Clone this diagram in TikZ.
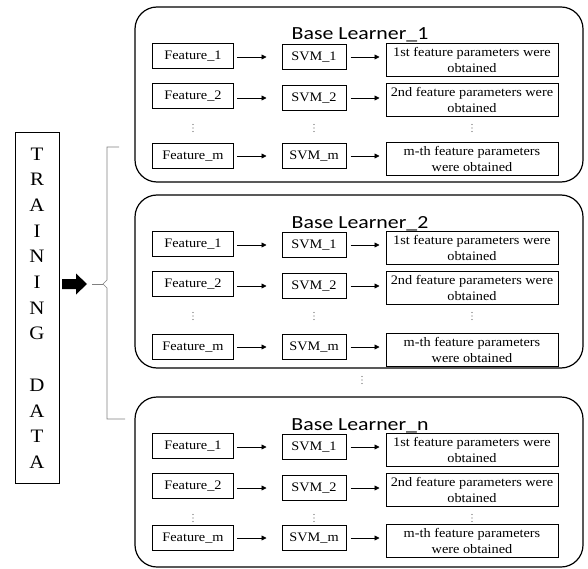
\documentclass[tikz,border=0pt]{standalone}
\usepackage{fontspec}
\setmainfont{Liberation Serif}[FakeStretch=1.1]
\newfontfamily\titlefont{Carlito}[FakeStretch=1.18]
\usetikzlibrary{arrows.meta}

\begin{document}
\begin{tikzpicture}[x=1pt, y=-1pt,
    every node/.style={font=\fontsize{13}{15.5}\selectfont},
    box/.style={draw, rectangle, line width=1pt, inner sep=1pt, align=center},
    featbox/.style={box, minimum width=81pt, minimum height=25pt},
    svmbox/.style={box, minimum width=64pt, minimum height=25pt},
    resbox/.style={box, minimum width=172pt, minimum height=33pt},
    learner/.style={draw, rounded corners=22pt, line width=1.2pt},
    flow/.style={-{Triangle[length=5pt,width=5pt]}, line width=0.8pt},
    brace/.style={draw, gray, line width=0.6pt}
]
    \useasboundingbox (0,0) rectangle (588,569);

    % training data and the big arrow
    \node[draw, line width=1pt, minimum width=44pt, minimum height=350pt, align=center,
          font=\fontsize{19}{25.7}\selectfont] (td) at (37,308)
          {T\\R\\A\\I\\N\\I\\N\\G\\[25.7pt]D\\A\\T\\A};
    \fill (62,279) -- (76,279) -- (76,273.5) -- (87,284) -- (76,294.5) -- (76,289) -- (62,289) -- cycle;
    \coordinate (go) at (87,284);

    % bracket to the learners
    \coordinate (bm) at (103,284);
    \coordinate (bt) at (119,147);
    \coordinate (bb) at (125,419);
    \draw[brace] ([xshift=5pt]go) -- (bm);
    \draw[brace] (bt) -- (107,147) -- (107,280) -- (bm) -- (107,288) -- (107,419) -- (bb);

    % base learners
    \foreach \i/\o/\m/\b in {1/0/156/182, 2/188/159/180, n/390/148/177} {
        \draw[learner] (135,\o+7) rectangle (583,\o+\b);
        \node[anchor=base, font=\titlefont\fontsize{18.5}{20}\selectfont] (title\i) at (360,\o+40) {Base Learner\_\i};

        \node[featbox] (feat\i-1) at (193,\o+56) {Feature\_1};
        \node[svmbox]  (svm\i-1)  at (314,\o+57) {SVM\_1};
        \node[resbox]  (res\i-1)  at (472,\o+60) {1st feature parameters were\\obtained};

        \node[featbox] (feat\i-2) at (193,\o+96) {Feature\_2};
        \node[svmbox]  (svm\i-2)  at (314,\o+98) {SVM\_2};
        \node[resbox]  (res\i-2)  at (472,\o+100) {2nd feature parameters were\\obtained};

        \node[featbox] (feat\i-m) at (193,\o+\m) {Feature\_m};
        \node[svmbox]  (svm\i-m)  at (314,\o+\m) {SVM\_m};
        \node[resbox]  (res\i-m)  at (472,\o+\m+3) {m-th feature parameters\\were obtained};

        \foreach \r in {1,2,m} {
            \draw[flow, shorten <=3pt, shorten >=15pt] (svm\i-\r.west -| feat\i-\r.east) -- (svm\i-\r.west);
            \draw[flow, shorten <=4pt, shorten >=6pt] (svm\i-\r.east) -- (res\i-\r.west |- svm\i-\r.east);
        }

        % vertical dots between row 2 and row m
        \foreach \x in {193,314,472}
            \foreach \d in {-3.5,0,3.5}
                \fill[gray!70!black] (\x,\o+128+\d) circle (0.65pt);
    }

    % dots between learner 2 and learner n
    \foreach \d in {-3.5,0,3.5}
        \fill[gray!70!black] (362,380+\d) circle (0.65pt);
\end{tikzpicture}
\end{document}
